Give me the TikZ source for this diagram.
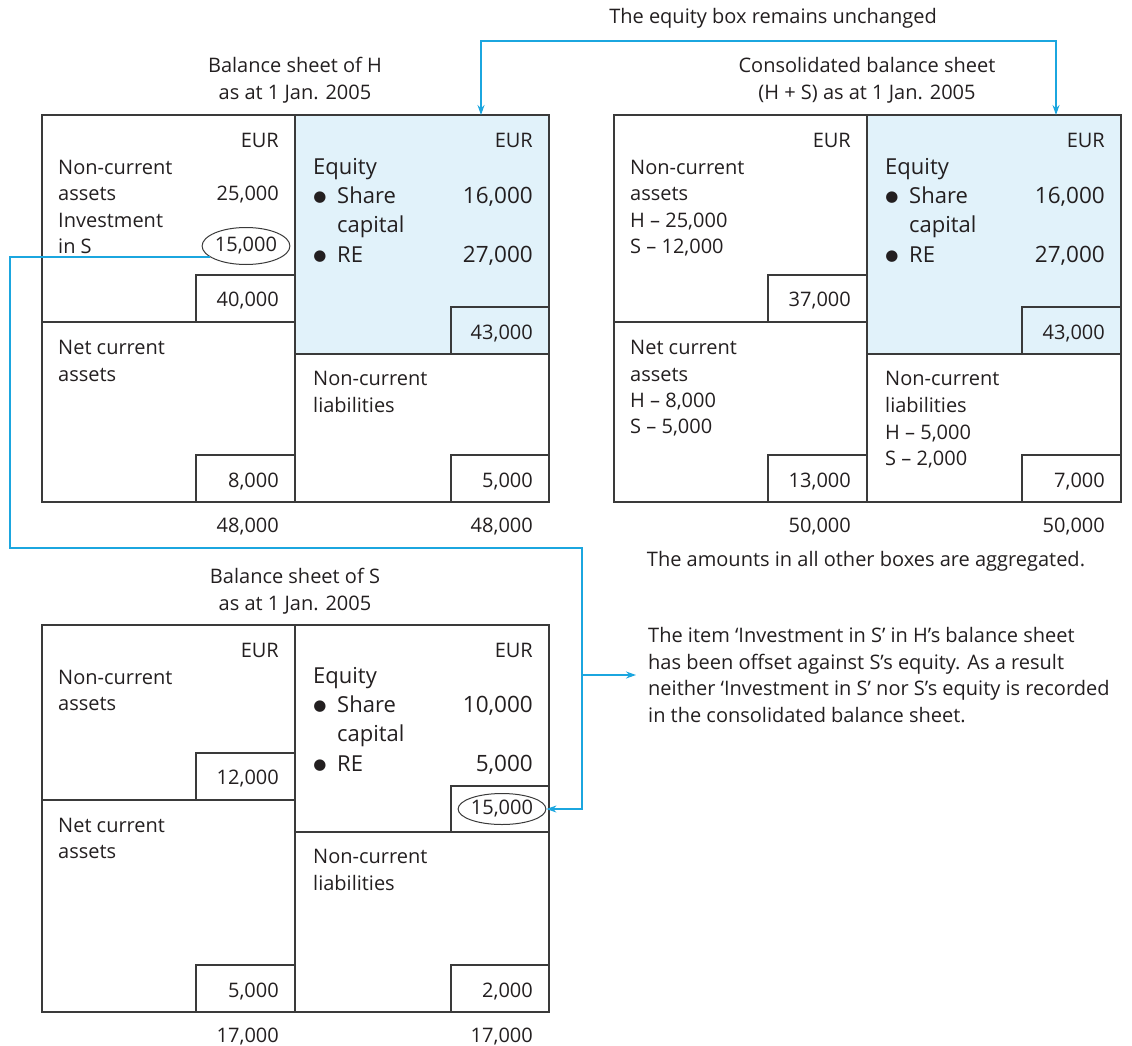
\documentclass[tikz,border=0pt]{standalone}
\usepackage{fontspec}
\setmainfont{Open Sans}
\newfontfamily\markfont{DejaVu Sans}
\usetikzlibrary{shapes.geometric,arrows.meta}
\definecolor{ink}{HTML}{231F20}
\definecolor{rule}{HTML}{3A3A3A}
\definecolor{link}{HTML}{1BA6DF}
\definecolor{eqfill}{HTML}{E1F2FA}
\begin{document}
\begin{tikzpicture}[x=1pt,y=-1pt,
  every node/.style={text=ink, inner sep=0pt},
  frame/.style={draw=rule, line width=1.2pt},
  txt/.style={anchor=base west, font=\fontsize{20}{26.5}\selectfont},
  amt/.style={anchor=base east, font=\fontsize{20}{26.5}\selectfont},
  eqtxt/.style={anchor=base west, font=\fontsize{22}{29}\selectfont},
  eqamt/.style={anchor=base east, font=\fontsize{22.5}{29}\selectfont},
  bul/.style={anchor=base, font=\markfont\fontsize{15}{15}\selectfont},
  title/.style={anchor=base, font=\fontsize{20}{26.5}\selectfont},
  circled/.style={ellipse, draw=rule, line width=1pt, minimum width=84pt,
    minimum height=#1, font=\fontsize{20}{26.5}\selectfont},
  eqbox/.style={anchor=north west, minimum width=254pt, minimum height=#1},
  conn/.style={draw=link, line width=1.2pt},
  tips/.style={{Stealth[length=10pt,width=7pt]}-{Stealth[length=10pt,width=7pt]}},
  tip/.style={-{Stealth[length=10pt,width=7pt]}}
]
\useasboundingbox (0,0) rectangle (1132,1046);

%% ---------------- Balance sheet of H ----------------
\node[title] (htitle1) at (295,73) {Balance sheet of H};
\node[title] (htitle2) at (295,100) {as at 1 Jan. 2005};
\node[eqbox=239pt, fill=eqfill] (heq) at (295,115) {};
\draw[frame] (42,115) rectangle (549,502);
\draw[frame] (295,115) -- (295,502);
\draw[frame] (42,322) -- (295,322);
\draw[frame] (295,354) -- (549,354);
\draw[frame] (196,322) |- (295,275);
\draw[frame] (451,354) |- (549,307);
\draw[frame] (196,502) |- (295,455);
\draw[frame] (451,502) |- (549,455);

\node[amt] (heur1) at (279,147) {EUR};
\node[amt] (heur2) at (533,147) {EUR};
\node[txt] (hnca1) at (58,174) {Non-current};
\node[txt] (hnca2) at (58,200) {assets};
\node[txt] (hinv1) at (58,227) {Investment};
\node[txt] (hinv2) at (58,253) {in S};
\node[amt] (hncav) at (279,200) {25,000};
\node[circled=37pt] (hinv) at (246,246) {15,000};
\node[amt] (hncat) at (279,306) {40,000};

\node[eqtxt] (heqt) at (313,174) {Equity};
\node[bul] (hb1) at (320,201) {●};
\node[eqtxt] (hsc1) at (337,203) {Share};
\node[eqtxt] (hsc2) at (337,232) {capital};
\node[bul] (hb2) at (320,260) {●};
\node[eqtxt] (hre) at (337,262) {RE};
\node[eqamt] (hscv) at (533,203) {16,000};
\node[eqamt] (hrev) at (533,262) {27,000};
\node[amt] (heqv) at (533,339) {43,000};

\node[txt] (hnc1) at (58,354) {Net current};
\node[txt] (hnc2) at (58,381) {assets};
\node[txt] (hncl1) at (313,385) {Non-current};
\node[txt] (hncl2) at (313,412) {liabilities};
\node[amt] (hncv) at (279,487) {8,000};
\node[amt] (hnclv) at (533,487) {5,000};
\node[amt] (htot1) at (279,532) {48,000};
\node[amt] (htot2) at (533,532) {48,000};

%% ---------------- Consolidated balance sheet ----------------
\node[title] (ctitle1) at (867,73) {Consolidated balance sheet};
\node[title] (ctitle2) at (867,100) {(H + S) as at 1 Jan. 2005};
\node[eqbox=239pt, fill=eqfill] (ceq) at (867,115) {};
\draw[frame] (614,115) rectangle (1121,502);
\draw[frame] (867,115) -- (867,502);
\draw[frame] (614,322) -- (867,322);
\draw[frame] (867,354) -- (1121,354);
\draw[frame] (768,322) |- (867,275);
\draw[frame] (1022,354) |- (1121,307);
\draw[frame] (768,502) |- (867,455);
\draw[frame] (1022,502) |- (1121,455);

\node[amt] (ceur1) at (851,147) {EUR};
\node[amt] (ceur2) at (1105,147) {EUR};
\node[txt] (cnca1) at (630,174) {Non-current};
\node[txt] (cnca2) at (630,200) {assets};
\node[txt] (cnca3) at (630,227) {H – 25,000};
\node[txt] (cnca4) at (630,253) {S – 12,000};
\node[amt] (cncat) at (851,306) {37,000};

\node[eqtxt] (ceqt) at (885,174) {Equity};
\node[bul] (cb1) at (892,201) {●};
\node[eqtxt] (csc1) at (909,203) {Share};
\node[eqtxt] (csc2) at (909,232) {capital};
\node[bul] (cb2) at (892,260) {●};
\node[eqtxt] (cre) at (909,262) {RE};
\node[eqamt] (cscv) at (1105,203) {16,000};
\node[eqamt] (crev) at (1105,262) {27,000};
\node[amt] (ceqv) at (1105,339) {43,000};

\node[txt] (cnc1) at (630,354) {Net current};
\node[txt] (cnc2) at (630,381) {assets};
\node[txt] (cnc3) at (630,407) {H – 8,000};
\node[txt] (cnc4) at (630,433) {S – 5,000};
\node[txt] (cncl1) at (885,385) {Non-current};
\node[txt] (cncl2) at (885,412) {liabilities};
\node[txt] (cncl3) at (885,439) {H – 5,000};
\node[txt] (cncl4) at (885,465) {S – 2,000};
\node[amt] (cncv) at (851,487) {13,000};
\node[amt] (cnclv) at (1105,487) {7,000};
\node[amt] (ctot1) at (851,532) {50,000};
\node[amt] (ctot2) at (1105,532) {50,000};
\node[title] (cagg) at (866,566) {The amounts in all other boxes are aggregated.};

%% ---------------- Balance sheet of S ----------------
\node[title] (stitle1) at (295,583) {Balance sheet of S};
\node[title] (stitle2) at (295,610) {as at 1 Jan. 2005};
\node[eqbox=207pt] (seq) at (295,625) {};
\draw[frame] (42,625) rectangle (549,1012);
\draw[frame] (295,625) -- (295,1012);
\draw[frame] (42,800) -- (295,800);
\draw[frame] (295,832) -- (549,832);
\draw[frame] (196,800) |- (295,753);
\draw[frame] (451,832) |- (549,786);
\draw[frame] (196,1012) |- (295,965);
\draw[frame] (451,1012) |- (549,965);

\node[amt] (seur1) at (279,657) {EUR};
\node[amt] (seur2) at (533,657) {EUR};
\node[txt] (snca1) at (58,684) {Non-current};
\node[txt] (snca2) at (58,710) {assets};
\node[amt] (sncat) at (279,784) {12,000};

\node[eqtxt] (seqt) at (313,683) {Equity};
\node[bul] (sb1) at (320,710) {●};
\node[eqtxt] (ssc1) at (337,712) {Share};
\node[eqtxt] (ssc2) at (337,741) {capital};
\node[bul] (sb2) at (320,769) {●};
\node[eqtxt] (sre) at (337,771) {RE};
\node[eqamt] (sscv) at (533,712) {10,000};
\node[eqamt] (srev) at (533,771) {5,000};
\node[circled=31pt] (sinv) at (502,809) {15,000};

\node[txt] (snc1) at (58,832) {Net current};
\node[txt] (snc2) at (58,858) {assets};
\node[txt] (sncl1) at (313,863) {Non-current};
\node[txt] (sncl2) at (313,890) {liabilities};
\node[amt] (sncv) at (279,997) {5,000};
\node[amt] (snclv) at (533,997) {2,000};
\node[amt] (stot1) at (279,1042) {17,000};
\node[amt] (stot2) at (533,1042) {17,000};

%% ---------------- Notes and links ----------------
\node[title] (eqnote) at (773,24) {The equity box remains unchanged};
\coordinate (eqL) at (481,41);
\coordinate (eqR) at (1056,41);
\draw[conn,tips] (eqL |- heq.north) -- (eqL) -- (eqR) -- (eqR |- ceq.north);

\node[anchor=west, inner xsep=12pt, inner ysep=0pt, align=left,
      font=\fontsize{20}{26.7}\selectfont] (offset) at (636,675)
  {The item ‘Investment in S’ in H’s balance sheet\\
   has been offset against S’s equity. As a result\\
   neither ‘Investment in S’ nor S’s equity is recorded\\
   in the consolidated balance sheet.};

\coordinate (invA) at (10,548);
\coordinate (invB) at (582,548);
\draw[conn,tip] (hinv.197) -| (invA) -- (invB) |- (sinv.east);
\coordinate (invC) at (invB |- offset.west);
\draw[conn,tip] (invC) -- (offset.west);
\end{tikzpicture}
\end{document}
